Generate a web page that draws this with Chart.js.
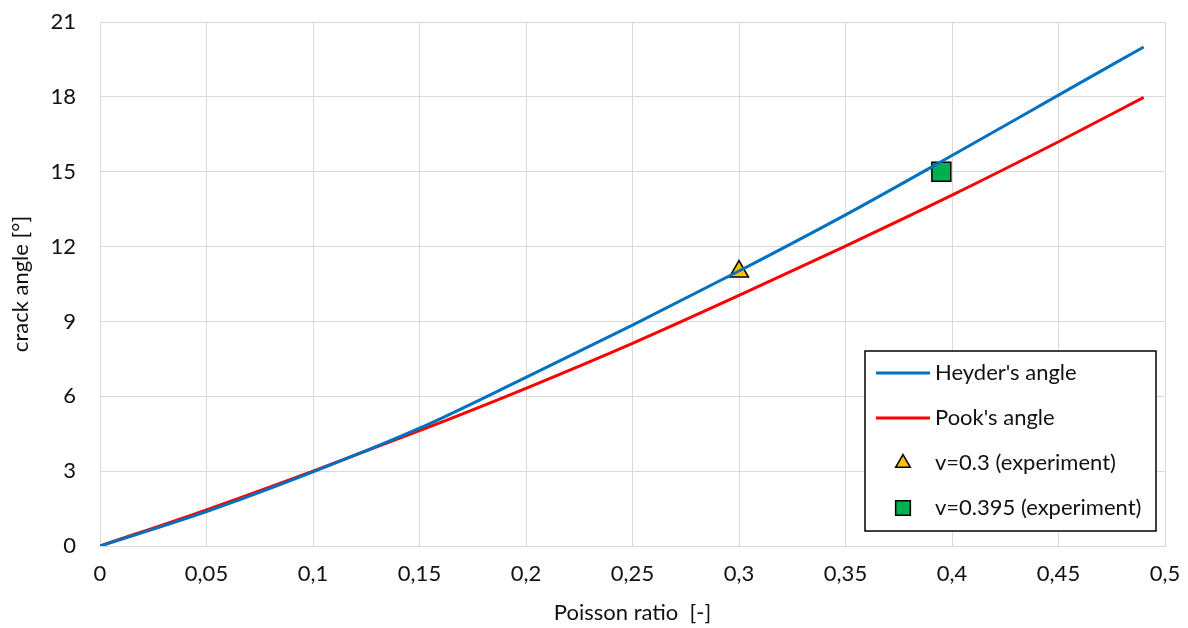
<!DOCTYPE html>
<html>
<head>
<meta charset="utf-8">
<script src="https://cdn.jsdelivr.net/npm/chart.js@4"></script>
<style>
  html, body { margin: 0; padding: 0; background: #fff; }
  #wrap { width: 1188px; height: 628px; }
</style>
</head>
<body>
<div id="wrap"><canvas id="crackChart" width="1188" height="628"></canvas></div>
<script>
// data
const poissonRatio = [0, 0.05, 0.1, 0.15, 0.2, 0.25, 0.3, 0.35, 0.4, 0.45, 0.49];
const heyderAngle = [0, 1.38, 2.97, 4.72, 6.76, 8.85, 11.02, 13.27, 15.65, 18.07, 20.0];
const pookAngle = [0, 1.45, 3.0, 4.62, 6.32, 8.12, 10.04, 12.02, 14.06, 16.2, 17.98];
const exp1Nu = [0.3];
const exp1Angle = [11];
const exp2Nu = [0.395];
const exp2Angle = [15];

const xTicks = [0, 0.05, 0.1, 0.15, 0.2, 0.25, 0.3, 0.35, 0.4, 0.45, 0.5];
const yTicks = [0, 3, 6, 9, 12, 15, 18, 21];

const FONT = "Lato, 'Open Sans', sans-serif";
const TEXT = "#111";
const GRID = "#d9d9d9";

function pts(xs, ys) {
  return xs.map((x, i) => ({ x: x, y: ys[i] }));
}

// legend drawn inside the plot, bottom right
const boxLegend = {
  id: "boxLegend",
  afterDraw(chart) {
    const ctx = chart.ctx;
    const area = chart.chartArea;
    const w = 291, h = 180;
    const x0 = area.right - 9 - w;
    const y0 = area.bottom - 15 - h;
    ctx.save();
    ctx.fillStyle = "#fff";
    ctx.fillRect(x0, y0, w, h);
    ctx.strokeStyle = "#000";
    ctx.lineWidth = 1.5;
    ctx.strokeRect(x0, y0, w, h);
    ctx.font = "22px " + FONT;
    ctx.textBaseline = "middle";
    chart.data.datasets.forEach((ds, i) => {
      const cy = y0 + 22 + i * 45;
      if (ds.showLine) {
        ctx.strokeStyle = ds.borderColor;
        ctx.lineWidth = 3;
        ctx.beginPath();
        ctx.moveTo(x0 + 11, cy);
        ctx.lineTo(x0 + 65, cy);
        ctx.stroke();
      } else {
        ctx.fillStyle = ds.pointBackgroundColor;
        ctx.strokeStyle = "#000";
        ctx.lineWidth = 1.5;
        const r = ds.pointStyle === "triangle" ? 8.5 : 10.4;
        Chart.helpers.drawPoint(ctx, { pointStyle: ds.pointStyle, radius: r, borderWidth: 1.5 }, x0 + 38, cy);
      }
      ctx.fillStyle = TEXT;
      ctx.fillText(ds.label, x0 + 70, cy);
    });
    ctx.restore();
  },
};

new Chart(document.getElementById("crackChart"), {
  type: "scatter",
  data: {
    datasets: [
      {
        label: "Heyder's angle",
        data: pts(poissonRatio, heyderAngle),
        showLine: true,
        borderColor: "#0070c0",
        borderWidth: 3,
        pointRadius: 0,
        cubicInterpolationMode: "monotone",
      },
      {
        label: "Pook's angle",
        data: pts(poissonRatio, pookAngle),
        showLine: true,
        borderColor: "#ff0000",
        borderWidth: 3,
        pointRadius: 0,
        cubicInterpolationMode: "monotone",
      },
      {
        label: "v=0.3 (experiment)",
        data: pts(exp1Nu, exp1Angle),
        showLine: false,
        pointStyle: "triangle",
        pointRadius: 11,
        pointBackgroundColor: "#ffc000",
        pointBorderColor: "#000",
        pointBorderWidth: 1.5,
      },
      {
        label: "v=0.395 (experiment)",
        data: pts(exp2Nu, exp2Angle),
        showLine: false,
        pointStyle: "rect",
        pointRadius: 13.4,
        pointBackgroundColor: "#00b050",
        pointBorderColor: "#000",
        pointBorderWidth: 1.5,
      },
    ],
  },
  options: {
    responsive: false,
    animation: false,
    layout: { autoPadding: false, padding: { top: 22, right: 23, left: 0, bottom: 0 } },
    plugins: {
      legend: { display: false },
      tooltip: { enabled: false },
    },
    scales: {
      x: {
        type: "linear",
        min: 0,
        max: 0.5,
        afterBuildTicks: (s) => { s.ticks = xTicks.map(v => ({ value: v })); },
        afterFit: (s) => { s.height = 82; s.paddingLeft = 0; s.paddingRight = 0; },
        grid: { color: GRID, lineWidth: 1, drawTicks: false },
        border: { color: GRID },
        ticks: {
          padding: 15,
          color: TEXT,
          font: { family: FONT, size: 22 },
          callback: (v) => String(Math.round(v * 100) / 100).replace(".", ","),
        },
        title: {
          display: true,
          text: "Poisson ratio  [-]",
          color: TEXT,
          font: { family: FONT, size: 22 },
          padding: { top: 0, bottom: 2 },
        },
      },
      y: {
        min: 0,
        max: 21,
        afterBuildTicks: (s) => { s.ticks = yTicks.map(v => ({ value: v })); },
        afterFit: (s) => { s.width = 100; s.paddingTop = 0; s.paddingBottom = 0; },
        grid: { color: GRID, lineWidth: 1, drawTicks: false },
        border: { color: GRID },
        ticks: {
          padding: 24,
          color: TEXT,
          font: { family: FONT, size: 22 },
        },
        title: {
          display: true,
          text: "crack angle [°]",
          color: TEXT,
          font: { family: FONT, size: 22 },
          padding: { top: 8, bottom: 0 },
        },
      },
    },
  },
  plugins: [boxLegend],
});
</script>
</body>
</html>
